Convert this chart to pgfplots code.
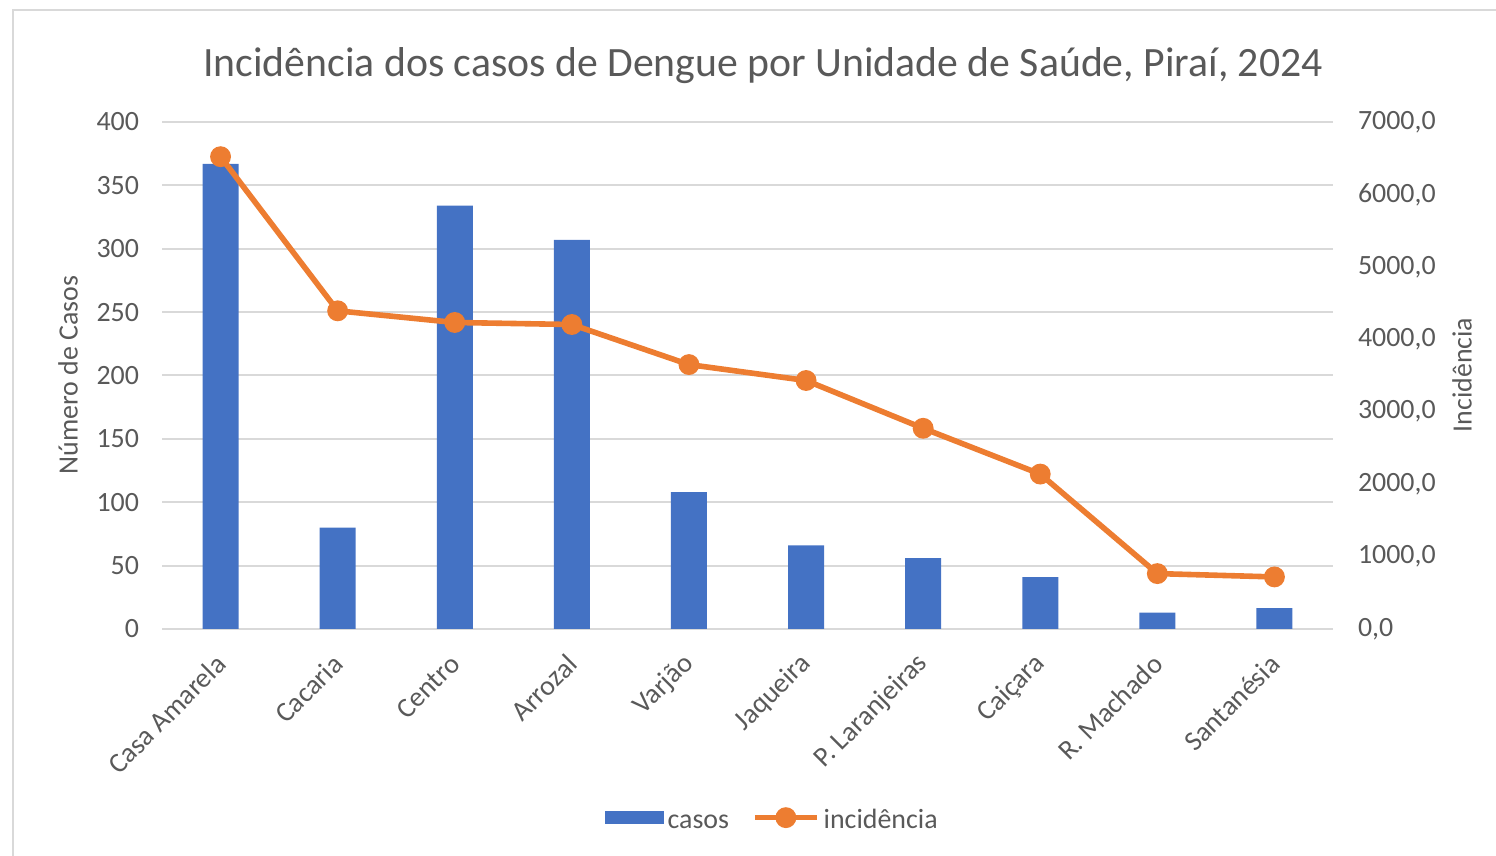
\documentclass[border=0pt]{standalone}
\usepackage{pgfplots}
\pgfplotsset{compat=1.18}
\usepackage{fontspec}
\setmainfont{Carlito}
\definecolor{barblue}{HTML}{4472C4}
\definecolor{lineorange}{HTML}{ED7D31}
\definecolor{txtgray}{HTML}{595959}
\definecolor{gridgray}{HTML}{D9D9D9}
\begin{document}
\begin{tikzpicture}
\path[use as bounding box] (0,0) rectangle (748bp,428bp);
\begin{scope}
\clip (0,0) rectangle (748bp,428bp);
\draw[gridgray, line width=1bp] (6.25bp,-20bp) rectangle (770bp,422.75bp);
\end{scope}
\node[txtgray, font=\fontsize{20.95}{25}\selectfont, anchor=base] at (381.5bp,389.5bp) {Incidência dos casos de Dengue por Unidade de Saúde, Piraí, 2024};
\node[txtgray, font=\fontsize{14}{16}\selectfont, rotate=90] at (34bp,240.5bp) {Número de Casos};
\node[txtgray, font=\fontsize{14}{16}\selectfont, rotate=90] at (731bp,240.5bp) {Incidência};
\begin{axis}[
  at={(81bp,113.5bp)}, anchor=south west,
  scale only axis, width=585.5bp, height=253.5bp,
  xmin=-0.5, xmax=9.5, ymin=0, ymax=400,
  xtick={0,...,9},
  xticklabels={Casa Amarela,Cacaria,Centro,Arrozal,Varjão,Jaqueira,P. Laranjeiras,Caiçara,R. Machado,Santanésia},
  ytick={0,50,...,400},
  axis line style={draw=none},
  major tick length=0pt,
  ymajorgrids, grid style={gridgray, line width=1bp},
  tick label style={txtgray, font=\fontsize{14}{16}\selectfont},
  /pgf/number format/assume math mode=true,
  yticklabel style={xshift=-8bp},
  xticklabel style={rotate=45, anchor=east, inner sep=0pt, yshift=-11bp, xshift=-10.5bp},
]
\addplot[ybar, bar width=18bp, fill=barblue, draw=none] coordinates {
(0,367) (1,80) (2,334) (3,307) (4,108) (5,66) (6,56) (7,41) (8,13) (9,16.5)};
\end{axis}
\begin{axis}[
  at={(81bp,113.5bp)}, anchor=south west,
  scale only axis, width=585.5bp, height=253.5bp,
  xmin=-0.5, xmax=9.5, ymin=0, ymax=7000,
  hide x axis,
  axis y line*=right,
  axis line style={draw=none},
  major tick length=0pt,
  ytick={0,1000,...,7000},
  tick label style={txtgray, font=\fontsize{14}{16}\selectfont},
  /pgf/number format/assume math mode=true,
  yticklabel style={xshift=9bp, /pgf/number format/.cd, fixed, fixed zerofill, precision=1, use comma, 1000 sep={}},
  legend style={at={(0.522,-0.378)}, anchor=center, draw=none, fill=none,
    legend columns=-1, font=\fontsize{14}{16}\selectfont, text=txtgray,
    nodes={text height=11bp, text depth=3bp},
    /tikz/every even column/.append style={column sep=9.5bp},
    inner sep=0pt},
  legend cell align=left,
]
\addlegendimage{legend image code/.code={\fill[barblue] (0bp,-1.5bp) rectangle (29bp,4.5bp);}}
\addlegendentry{casos}
\addplot[lineorange, line width=2.8bp, mark=*, mark size=3.8bp, mark options={fill=lineorange, draw=lineorange},
  legend image code/.code={\draw[lineorange, line width=2.8bp] (0bp,1.5bp) -- (31bp,1.5bp); \fill[lineorange] (15.5bp,1.5bp) circle (3.8bp);}] coordinates {
(0,6521) (1,4393) (2,4232) (3,4204) (4,3651) (5,3431) (6,2771) (7,2139) (8,765) (9,719)};
\addlegendentry{incidência}
\end{axis}
\end{tikzpicture}
\end{document}
